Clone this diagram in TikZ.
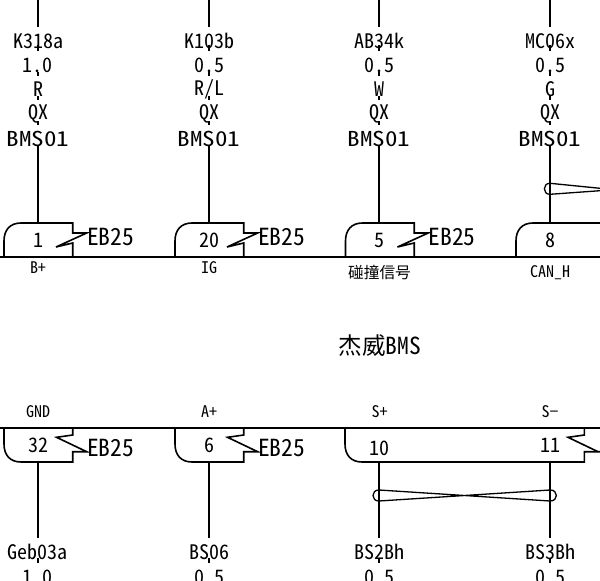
\documentclass[tikz,border=0pt]{standalone}
\usepackage{fontspec}
\setmainfont{Noto Sans CJK JP}
\newfontfamily\hwf[RawFeature=+hwid]{Noto Sans CJK JP}
\newfontfamily\hww[RawFeature=+hwid,FakeStretch=1.22]{Noto Sans CJK JP}
\tikzset{
  x=1pt,y=-1pt,
  wire/.style={line width=1.6pt,black},
  thinline/.style={line width=1.3pt,black},
  lab/.style={inner sep=0pt,font=\hwf\fontsize{20}{20}\selectfont},
  big/.style={inner sep=0pt,font=\hww\fontsize{20.5}{20.5}\selectfont},
  ebl/.style={inner sep=0pt,font=\hwf\fontsize{23.5}{23.5}\selectfont},
  tiny/.style={inner sep=0pt,font=\hwf\fontsize{16}{16}\selectfont},
  pin/.style={inner sep=0pt,font=\hwf\fontsize{20}{20}\selectfont},
}
\newcommand{\toplabels}[7]{%
  \node[lab] (#1k) at (#2,41) {#3};
  \node[lab] (#1s) at (#2,65) {#4};
  \node[lab] (#1c) at (#2,89) {#5};
  \node[lab] (#1q) at (#2,114) {QX};
  \node[big] (#1b) at (#2,139) {BMS01};
  \node[pin] (#1p) at (#2,240) {#6};
  \coordinate (#1t) at (#2,0);
  \coordinate (#1e) at (#2,223);
  \draw[wire] (#1t) -- ++(0,27);
  \draw[wire] (#2,45) -- (#2,51) (#2,72) -- (#2,76) (#2,96) -- (#2,100) (#2,121) -- (#2,125);
  \draw[wire] (#2,146) -- (#1e);
}
\newcommand{\botlabels}[3]{%
  \node[lab] (#1k) at (#2,552) {#3};
  \coordinate (#1e) at (#2,462);
  \draw[wire] (#1e) -- ++(0,75.7);
  \draw[wire] (#2,558) -- (#2,563);
}
\newcommand{\topconn}[1]{%
  \draw[wire,line join=miter] (#1+4,257) -- (#1+4,241) .. controls (#1+4,230) and (#1+10,223) .. (#1+21,223)
    -- (#1+72.7,223) -- (#1+72.7,233) -- (#1+86.7,233) -- (#1+56,247) -- (#1+72.7,243) -- (#1+72.7,257);
  \node[ebl] (eb#1) at (#1+110.5,237) {EB25};
}
\newcommand{\botconn}[1]{%
  \draw[wire,line join=miter] (#1+4,428) -- (#1+4,444) .. controls (#1+4,455) and (#1+10,462) .. (#1+21,462)
    -- (#1+72.7,462) -- (#1+72.7,451.7) -- (#1+86.7,451.7) -- (#1+56.5,437.3) -- (#1+72.7,435) -- (#1+72.7,428);
  \node[ebl] (ebb#1) at (#1+110.5,448) {EB25};
}
\begin{document}
\begin{tikzpicture}
\useasboundingbox (0,0) rectangle (600,581);
\clip (0,0) rectangle (600,581);
\fill[white] (0,0) rectangle (600,581);
\toplabels{a}{38}{K318a}{1.0}{R}{1}{}
\toplabels{b}{209}{K103b}{0.5}{R/L}{20}{}
\toplabels{c}{379}{AB34k}{0.5}{W}{5}{}
\toplabels{d}{550}{MC06x}{0.5}{G}{8}{}
\coordinate (busl) at (0,257); \coordinate (busr) at (600,257);
\draw[wire] (busl) -- (busr);
\topconn{0}
\topconn{171}
\topconn{341.5}
\draw[wire] (516,257) -- (516,241) .. controls (516,230) and (522,223) .. (533,223) -- (600,223);
\draw[thinline] (600,188.3) -- (550,183.3) .. controls (542.5,183) and (542.5,194.6) .. (550,194.3) -- (600,190.7);
\node[tiny] (la) at (38,268) {B+};
\node[tiny] (lb) at (209,268) {IG};
\node[inner sep=0pt,font=\fontsize{15.7}{15.7}\selectfont] (lc) at (379.5,273) {碰撞信号};
\node[tiny] (ld) at (550,273) {CAN\_H};
\node[inner sep=0pt,font=\fontsize{23.5}{23.5}\selectfont] (title) at (380,346) {杰威{\hwf BMS}};
\coordinate (bbl) at (0,428); \coordinate (bbr) at (600,428);
\draw[wire] (bbl) -- (bbr);
\botlabels{p}{38}{Geb03a}
\botlabels{q}{209}{BS06}
\botlabels{r}{379}{BS2Bh}
\botlabels{s}{550}{BS3Bh}
\botconn{0}
\botconn{171}
\draw[wire,line join=miter] (345,428) -- (345,444) .. controls (345,455) and (351,462) .. (362,462)
  -- (584.3,462) -- (584.3,451.7) -- (600,451.7);
\draw[wire,line join=miter] (598,451.7) -- (568,437.3) -- (584.3,435) -- (584.3,428);
\node[ebl] (ebe) at (622,448) {EB25};
\node[tiny] (lp) at (38,412) {GND};
\node[tiny] (lq) at (209,412) {A+};
\node[tiny] (lr) at (379.5,412) {S+};
\node[tiny] (ls) at (550,412) {S−};
\node[pin] (np) at (38,445) {32};
\node[pin] (nq) at (209,445) {6};
\node[pin] (nr) at (379.5,448) {10};
\node[pin] (ns) at (550,445) {11};
\draw[thinline] (379,490) -- (550,501) .. controls (558.5,501.3) and (558.5,489.7) .. (550,490)
  -- (379,501) .. controls (371,501.3) and (371,489.7) .. (379,490) -- cycle;
\node[lab] (ps) at (38,577) {1.0};
\node[lab] (qs) at (209,577) {0.5};
\node[lab] (rs) at (379.5,577) {0.5};
\node[lab] (ss) at (550,577) {0.5};
\end{tikzpicture}
\end{document}
